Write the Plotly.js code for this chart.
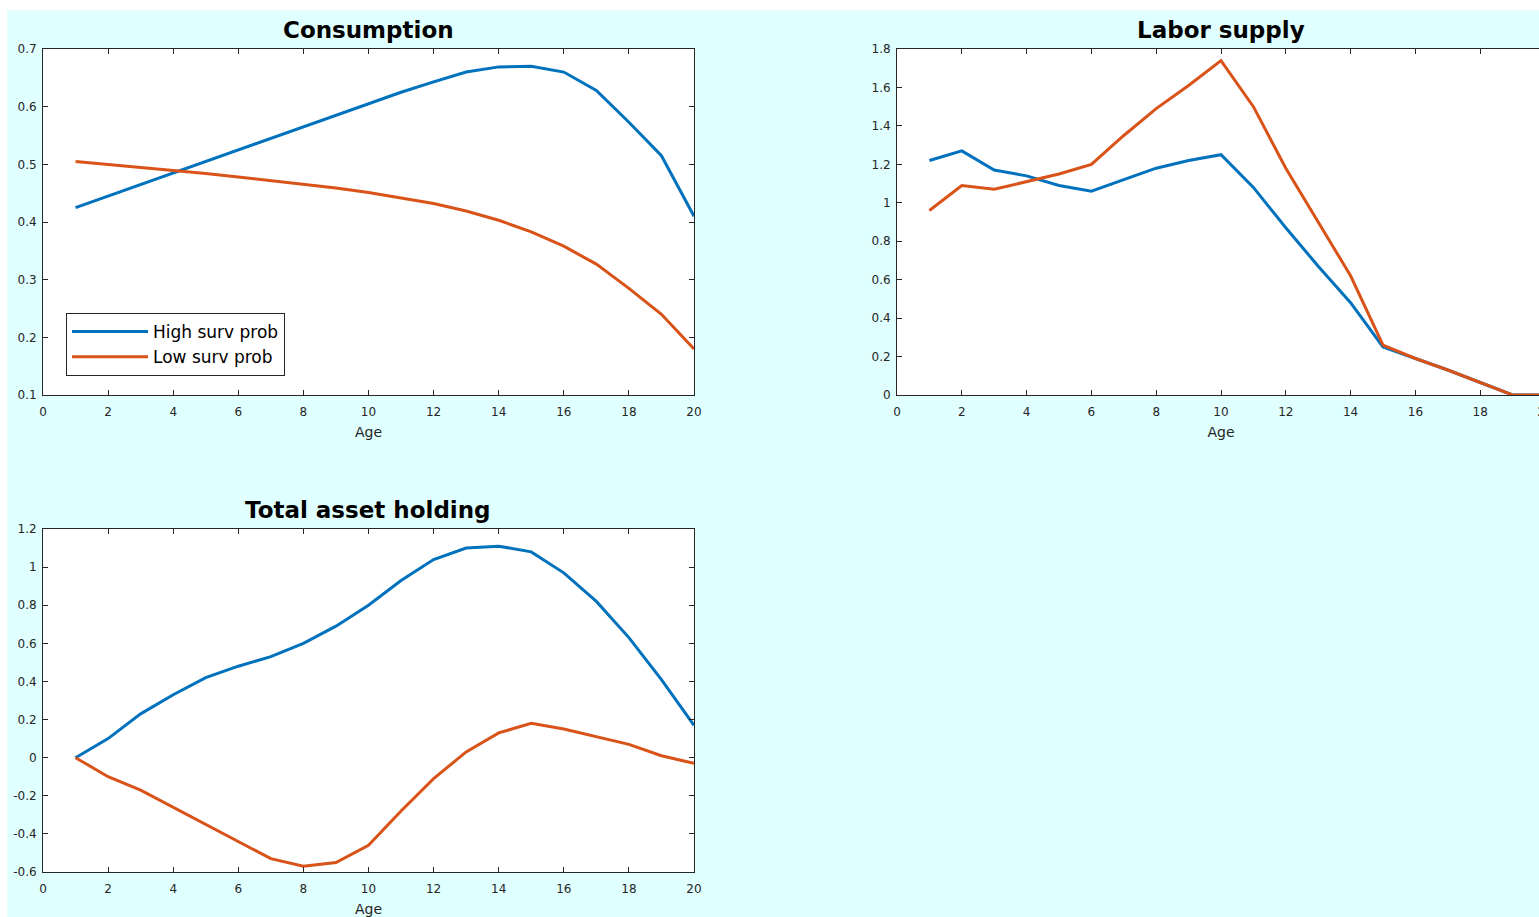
<!DOCTYPE html>
<html>
<head>
<meta charset="utf-8">
<script src="https://cdn.plot.ly/plotly-3.0.1.min.js"></script>
<style>
html, body { margin: 0; padding: 0; background: #ffffff; overflow: hidden; width: 1539px; height: 917px; }
#chart { position: absolute; left: 7px; top: 10px; width: 1620px; height: 907px; }
</style>
</head>
<body>
<div id="chart"></div>
<script>
// ---- data ----
const age = [1,2,3,4,5,6,7,8,9,10,11,12,13,14,15,16,17,18,19,20];
const seriesNames = ["High surv prob", "Low surv prob"];

const consHigh = [0.425,0.445,0.465,0.485,0.505,0.525,0.545,0.565,0.585,0.605,0.625,0.643,0.660,0.669,0.670,0.660,0.628,0.573,0.515,0.410];
const consLow  = [0.505,0.500,0.495,0.489,0.484,0.478,0.472,0.466,0.459,0.451,0.442,0.432,0.419,0.403,0.383,0.358,0.327,0.285,0.240,0.180];

const laborHigh = [1.22,1.27,1.17,1.14,1.09,1.06,1.12,1.18,1.22,1.25,1.08,0.87,0.67,0.48,0.25,0.19,0.13,0.065,0.0,0.0];
const laborLow  = [0.96,1.09,1.07,1.11,1.15,1.20,1.35,1.49,1.61,1.74,1.50,1.18,0.90,0.62,0.26,0.19,0.13,0.065,0.0,0.0];

const assetHigh = [0.0,0.10,0.23,0.33,0.42,0.48,0.53,0.60,0.69,0.80,0.93,1.04,1.10,1.11,1.08,0.97,0.82,0.63,0.41,0.17];
const assetLow  = [0.0,-0.10,-0.17,-0.26,-0.35,-0.44,-0.53,-0.57,-0.55,-0.46,-0.28,-0.11,0.03,0.13,0.18,0.15,0.11,0.07,0.01,-0.03];

const xTicks = [0,2,4,6,8,10,12,14,16,18,20];
const consTicks = [0.1,0.2,0.3,0.4,0.5,0.6,0.7];
const laborTicks = [0,0.2,0.4,0.6,0.8,1,1.2,1.4,1.6,1.8];
const assetTicks = [-0.6,-0.4,-0.2,0,0.2,0.4,0.6,0.8,1,1.2];

const panelTitles = ["Consumption", "Labor supply", "Total asset holding"];
const xTitle = "Age";

// ---- styles ----
const blue = "#0072BD";
const red = "#D95319";
const axisColor = "#262626";
const FONT = "DejaVu Sans, Liberation Sans, Arial, sans-serif";

function line(x, y, color, name, xa, ya, showlegend) {
  return { x: x, y: y, type: "scatter", mode: "lines", name: name,
           line: { color: color, width: 3 }, xaxis: xa, yaxis: ya,
           showlegend: showlegend, legendgroup: name };
}

const traces = [
  line(age, consHigh, blue, seriesNames[0], "x", "y", true),
  line(age, consLow, red, seriesNames[1], "x", "y", true),
  line(age, laborHigh, blue, seriesNames[0], "x2", "y2", false),
  line(age, laborLow, red, seriesNames[1], "x2", "y2", false),
  line(age, assetHigh, blue, seriesNames[0], "x3", "y3", false),
  line(age, assetLow, red, seriesNames[1], "x3", "y3", false)
];

function xaxis(domain, anchor) {
  return {
    domain: domain, anchor: anchor, range: [0, 20], tickmode: "array",
    tickvals: xTicks, ticktext: xTicks.map(String),
    ticks: "inside", ticklen: 5, tickcolor: axisColor, tickwidth: 1,
    showline: true, linecolor: axisColor, linewidth: 1, mirror: "allticks",
    showgrid: false, zeroline: false, ticklabelstandoff: 6,
    tickfont: { family: FONT, size: 12, color: axisColor },
    title: { text: xTitle, font: { family: FONT, size: 14, color: axisColor }, standoff: 8 }
  };
}
function yaxis(domain, anchor, range, tickvals) {
  return {
    domain: domain, anchor: anchor, range: range, tickmode: "array",
    tickvals: tickvals, ticktext: tickvals.map(String),
    ticks: "inside", ticklen: 5, tickcolor: axisColor, tickwidth: 1,
    showline: true, linecolor: axisColor, linewidth: 1, mirror: "allticks",
    showgrid: false, zeroline: false, ticklabelstandoff: 3,
    tickfont: { family: FONT, size: 12, color: axisColor }
  };
}

const W = 1620, H = 907;
const topY = [1 - 385/H, 1 - 39/H];
const botY = [1 - 862/H, 1 - 519/H];
const leftX = [36/W, 687/W];
const rightX = [890/W, 1538/W];

function titleAnn(text, xpx, ypx) {
  return { text: "<b>" + text + "</b>", xref: "paper", yref: "paper",
           x: xpx / W, y: 1 - ypx / H, xanchor: "center", yanchor: "middle",
           showarrow: false, font: { family: FONT, size: 23, color: "#000000" } };
}

const layout = {
  width: W, height: H,
  margin: { l: 0, r: 0, t: 0, b: 0 },
  paper_bgcolor: "#e0ffff",
  plot_bgcolor: "#ffffff",
  font: { family: FONT },
  hovermode: false,
  xaxis: xaxis(leftX, "y"),
  yaxis: yaxis(topY, "x", [0.1, 0.7], consTicks),
  xaxis2: xaxis(rightX, "y2"),
  yaxis2: yaxis(topY, "x2", [0, 1.8], laborTicks),
  xaxis3: xaxis(leftX, "y3"),
  yaxis3: yaxis(botY, "x3", [-0.6, 1.2], assetTicks),
  legend: {
    x: 59 / W, y: 1 - 303 / H, xanchor: "left", yanchor: "top",
    bgcolor: "#ffffff", bordercolor: axisColor, borderwidth: 1,
    font: { family: FONT, size: 17, color: "#000000" },
    itemwidth: 76,
    tracegroupgap: 0
  },
  annotations: [
    titleAnn(panelTitles[0], 361, 20),
    titleAnn(panelTitles[1], 1214, 20),
    titleAnn(panelTitles[2], 361, 500)
  ]
};

Plotly.newPlot("chart", traces, layout, { displayModeBar: false, staticPlot: true });
</script>
</body>
</html>
